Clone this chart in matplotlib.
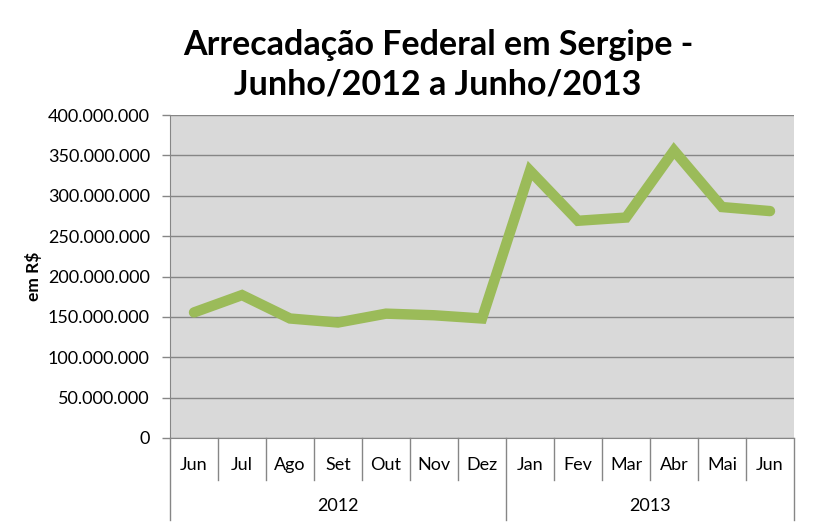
import matplotlib.pyplot as plt
from matplotlib.ticker import FuncFormatter

months = ["Jun", "Jul", "Ago", "Set", "Out", "Nov", "Dez",
          "Jan", "Fev", "Mar", "Abr", "Mai", "Jun"]
years = ["2012", "2013"]
year_counts = [7, 6]
valores = [155.5e6, 177e6, 148e6, 143e6, 154e6, 152e6, 148e6,
           331e6, 269e6, 273e6, 356e6, 286e6, 281e6]

plt.rcParams['font.family'] = ['Lato', 'DejaVu Sans']

fig = plt.figure(figsize=(8.14, 5.29), dpi=100)
ax = fig.add_axes([170 / 814, 91 / 529, 624 / 814, 323 / 529])
ax.set_facecolor("#D9D9D9")

x = list(range(len(months)))
ax.plot(x, valores, color="#9BBB59", lw=7.5, solid_joinstyle="miter",
        solid_capstyle="round", zorder=3)

ax.set_xlim(-0.5, len(months) - 0.5)
ax.set_ylim(0, 400e6)
ax.set_yticks(range(0, 400000001, 50000000))
ax.yaxis.set_major_formatter(FuncFormatter(
    lambda v, p: "0" if v == 0 else f"{int(v):,}".replace(",", ".")))
ax.tick_params(axis="y", labelsize=13, colors="#868686", labelcolor="black",
               length=5.5, width=1, pad=9)
ax.grid(axis="y", color="#868686", lw=1)
ax.set_axisbelow(True)
ax.set_xticks([])
for s in ["top", "right"]:
    ax.spines[s].set_visible(False)
for s in ["left", "bottom"]:
    ax.spines[s].set_color("#868686")

# two-level category axis
tr = ax.get_xaxis_transform()
for i, m in enumerate(months):
    ax.text(i, -0.085, m, transform=tr, ha="center", va="center", fontsize=13)
bounds = [0]
for c in year_counts:
    bounds.append(bounds[-1] + c)
for b in range(len(months) + 1):
    ybot = -0.254 if b in bounds else -0.13
    ax.plot([b - 0.5, b - 0.5], [0, ybot], transform=tr, color="#868686",
            lw=1, clip_on=False)
for k, yr in enumerate(years):
    mid = (bounds[k] + bounds[k + 1] - 1) / 2
    ax.text(mid, -0.21, yr, transform=tr, ha="center", va="center", fontsize=13)

ax.set_ylabel("em R$", fontsize=12.5, fontweight="bold")
ax.yaxis.set_label_coords(-0.205, 0.5)

fig.text(438 / 814, 1 - 65 / 529,
         "Arrecadação Federal em Sergipe -\nJunho/2012 a Junho/2013",
         ha="center", va="center", fontsize=24.5, fontweight="bold",
         linespacing=1.3)

fig.savefig("out.png", dpi=100)
